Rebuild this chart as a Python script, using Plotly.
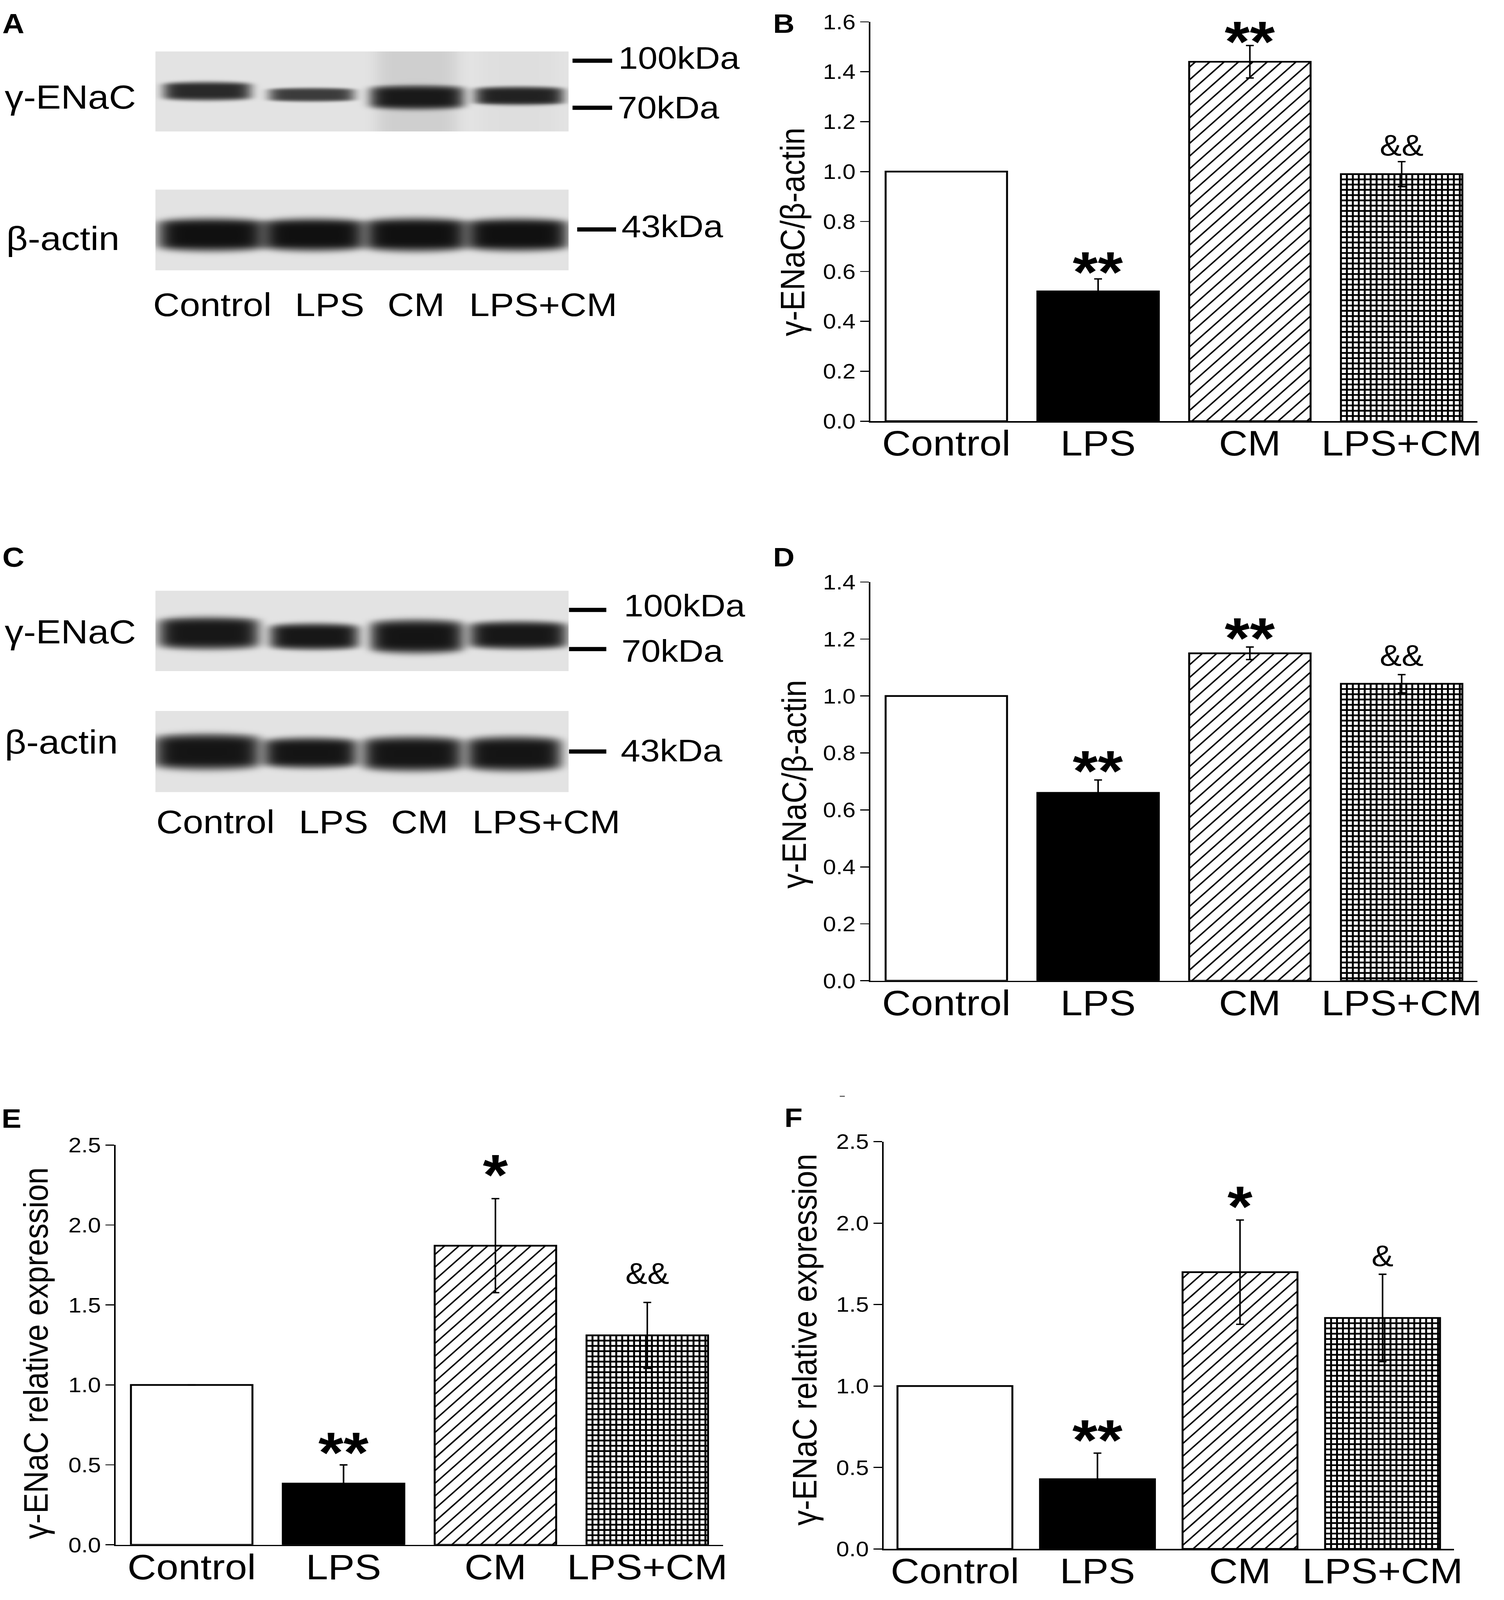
import numpy as np
import plotly.graph_objects as go

W, H = 3850, 4587
FONT = "Liberation Sans, Arial, Helvetica, sans-serif"

# ---------------- data ----------------
groups = ["Control", "LPS", "CM", "LPS+CM"]

# Panel B (western blot quantification, experiment 1)
b_mean = [1.00, 0.52, 1.44, 0.99]
b_err = [0.0, 0.05, 0.065, 0.05]
b_sig = ["", "**", "**", "&&"]
b_sig_y = [None, 0.628, 1.552, 1.105]
b_ticks = [0.0, 0.2, 0.4, 0.6, 0.8, 1.0, 1.2, 1.4, 1.6]

# Panel D (western blot quantification, experiment 2)
d_mean = [1.00, 0.66, 1.15, 1.043]
d_err = [0.0, 0.045, 0.022, 0.032]
d_sig = ["", "**", "**", "&&"]
d_sig_y = [None, 0.764, 1.231, 1.143]
d_ticks = [0.0, 0.2, 0.4, 0.6, 0.8, 1.0, 1.2, 1.4]

# Panel E (mRNA relative expression)
e_mean = [1.00, 0.383, 1.871, 1.31]
e_err = [0.0, 0.117, 0.294, 0.206]
e_sig = ["", "**", "*", "&&"]
e_sig_y = [None, 0.626, 2.363, 1.696]
e_ticks = [0.0, 0.5, 1.0, 1.5, 2.0, 2.5]

# Panel F (mRNA relative expression)
f_mean = [1.00, 0.428, 1.699, 1.418]
f_err = [0.0, 0.16, 0.32, 0.268]
f_sig = ["", "**", "*", "&"]
f_sig_y = [None, 0.717, 2.150, 1.798]
f_ticks = [0.0, 0.5, 1.0, 1.5, 2.0, 2.5]

# bar fills: plain, solid, diagonal hatch, fine grid
bar_fill = ["white", "black", "white", "white"]
bar_pattern = ["", "", "/", "+"]

# Blot bands: lane centre, half width (lanes), band centre / half height
# (fraction of strip height, top = 0), darkness (0..1)
a_enac_xc = [0.0, 1.01, 2.03, 3.02]
a_enac_hw = [0.41, 0.40, 0.44, 0.417]
a_enac_yc = [0.494, 0.539, 0.573, 0.554]
a_enac_hh = [0.11, 0.08, 0.14, 0.108]
a_enac_dk = [0.82, 0.74, 0.88, 0.85]
a_enac_smear = [0.0, 0.0, 0.09, 0.02]

a_actin_xc = [0.04, 1.03, 2.02, 3.0]
a_actin_hw = [0.50, 0.476, 0.477, 0.476]
a_actin_yc = [0.557, 0.557, 0.557, 0.557]
a_actin_hh = [0.192, 0.19, 0.195, 0.19]
a_actin_dk = [0.93, 0.93, 0.93, 0.93]

c_enac_xc = [0.015, 1.036, 2.03, 3.01]
c_enac_hw = [0.47, 0.415, 0.436, 0.457]
c_enac_yc = [0.526, 0.568, 0.568, 0.551]
c_enac_hh = [0.188, 0.154, 0.197, 0.162]
c_enac_dk = [0.90, 0.90, 0.91, 0.90]

c_actin_xc = [0.0, 1.0, 1.99, 2.97]
c_actin_hw = [0.498, 0.438, 0.47, 0.444]
c_actin_yc = [0.502, 0.515, 0.527, 0.527]
c_actin_hh = [0.207, 0.177, 0.200, 0.200]
c_actin_dk = [0.91, 0.91, 0.91, 0.91]

BLOT_BG = 0.89
LN2 = np.log(2.0)


def px_x(p):
    return p / W


def px_y(p):
    return 1 - p / H


def blot(xc, hw, yc, hh, dk, smear=None):
    xs = np.linspace(-0.5, 3.5, 400)
    ys = np.linspace(0, 1, 120)
    X, Y = np.meshgrid(xs, ys)
    z = np.full(X.shape, BLOT_BG)
    for i in range(len(xc)):
        dx = (X - xc[i]) / hw[i]
        hh_eff = hh[i] * np.clip(1 - 0.12 * dx ** 2, 0.5, 1)
        dy = (Y - yc[i]) / hh_eff
        p = np.exp(-LN2 * np.abs(dx) ** 8) * np.exp(-LN2 * np.abs(dy) ** 5)
        z = z * (1 - dk[i] * p)
        if smear is not None and smear[i] > 0:
            ps = np.exp(-LN2 * np.abs((X - xc[i]) / (0.85 * hw[i])) ** 6)
            z = z * (1 - smear[i] * ps)
    return xs, ys, z


fig = go.Figure()
layout = dict(
    width=W, height=H, margin=dict(l=0, r=0, t=0, b=0),
    paper_bgcolor="white", plot_bgcolor="white", showlegend=False,
    font=dict(family=FONT, color="black"), barmode="overlay",
)

# ---------------- blots ----------------
strips = [
    ("", 400, 1464, 116, 349, (a_enac_xc, a_enac_hw, a_enac_yc, a_enac_hh, a_enac_dk, a_enac_smear)),
    ("2", 400, 1464, 518, 753, (a_actin_xc, a_actin_hw, a_actin_yc, a_actin_hh, a_actin_dk, None)),
    ("3", 400, 1464, 1685, 1919, (c_enac_xc, c_enac_hw, c_enac_yc, c_enac_hh, c_enac_dk, None)),
    ("4", 400, 1464, 2035, 2271, (c_actin_xc, c_actin_hw, c_actin_yc, c_actin_hh, c_actin_dk, None)),
]
for aid, x0, x1, yt, yb, params in strips:
    xs, ys, z = blot(*params)
    fig.add_trace(go.Heatmap(
        x=xs, y=ys, z=z, zmin=0, zmax=1, showscale=False, zsmooth="best",
        colorscale=[[0, "#000000"], [1, "#ffffff"]], hoverinfo="skip",
        xaxis="x" + aid, yaxis="y" + aid))
    layout["xaxis" + aid] = dict(domain=[px_x(x0), px_x(x1)], range=[-0.5, 3.5],
                                 visible=False, anchor="y" + aid)
    layout["yaxis" + aid] = dict(domain=[px_y(yb), px_y(yt)], range=[1, 0],
                                 visible=False, anchor="x" + aid)


# ---------------- bar charts ----------------
def hatch_trace(xc, bw, top, pxx, pxy, aid, spacing=37.0, lw=4):
    """diagonal '/' hatch inside a bar, 45 degrees in screen space"""
    xl = xc - bw / 2
    Wb, Hb = bw * pxx, top * pxy
    xs, ys = [], []
    c = Wb - 10
    while c > -Hb:
        u0, u1 = max(0.0, c), min(Wb, Hb + c)
        if u1 > u0:
            xs += [xl + u0 / pxx, xl + u1 / pxx, None]
            ys += [(u0 - c) / pxy, (u1 - c) / pxy, None]
        c -= spacing
    return go.Scatter(x=xs, y=ys, mode="lines", line=dict(color="black", width=lw),
                      hoverinfo="skip", xaxis="x" + aid, yaxis="y" + aid)


def grid_trace(xc, bw, top, pxx, pxy, aid, spacing=15.3, lw=5):
    """fine square grid inside a bar"""
    xl, xr = xc - bw / 2, xc + bw / 2
    Wb, Hb = bw * pxx, top * pxy
    xs, ys = [], []
    u = spacing
    while u < Wb - 2:
        xs += [xl + u / pxx, xl + u / pxx, None]
        ys += [0, top, None]
        u += spacing
    v = Hb - spacing
    while v > 2:
        xs += [xl, xr, None]
        ys += [v / pxy, v / pxy, None]
        v -= spacing
    return go.Scatter(x=xs, y=ys, mode="lines", line=dict(color="black", width=lw),
                      hoverinfo="skip", xaxis="x" + aid, yaxis="y" + aid)


charts = [
    ("5", 2241, 3804, 30, 1192, 1.6, b_mean, b_err, b_sig, b_sig_y, b_ticks,
     "γ-ENaC/β-actin", (2040, 641), 0.8),
    ("6", 2241, 3804, 1660, 2820, 1.4, d_mean, d_err, d_sig, d_sig_y, d_ticks,
     "γ-ENaC/β-actin", (2044, 2248), 0.8),
    ("7", 298, 1862, 3298, 4461, 2.5, e_mean, e_err, e_sig, e_sig_y, e_ticks,
     "γ-ENaC relative expression", (93, 3903), 0.8),
    ("8", 2275, 3743, 3288, 4473, 2.5, f_mean, f_err, f_sig, f_sig_y, f_ticks,
     "γ-ENaC relative expression", (2071, 3864), 0.806),
]

annotations = []
shapes = []
xpos = list(range(len(groups)))

for (aid, x0, x1, ytop, yzero, ymax, mean, err, sig, sig_y, ticks,
     title, tpos, bw) in charts:
    pxx = (x1 - x0) / 4.0
    pxy = (yzero - ytop) / ymax
    fig.add_trace(go.Bar(
        x=xpos, y=mean, xaxis="x" + aid, yaxis="y" + aid, width=bw,
        marker=dict(color=bar_fill, line=dict(color="black", width=5)),
        error_y=dict(type="data", array=err, visible=True, color="black",
                     thickness=4, width=10),
        hoverinfo="skip",
    ))
    for i, pat in enumerate(bar_pattern):
        if pat == "/":
            fig.add_trace(hatch_trace(xpos[i], bw, mean[i], pxx, pxy, aid))
        elif pat == "+":
            fig.add_trace(grid_trace(xpos[i], bw, mean[i], pxx, pxy, aid))
    layout["xaxis" + aid] = dict(
        domain=[px_x(x0), px_x(x1)], anchor="y" + aid, range=[-0.5, 3.5],
        tickvals=xpos, ticktext=groups, showline=True, linecolor="black",
        linewidth=4, ticks="", showgrid=False, zeroline=False,
        ticklabelstandoff=-28,
        tickfont=dict(family=FONT, size=102, color="black"),
    )
    layout["yaxis" + aid] = dict(
        domain=[px_y(yzero), px_y(ytop)], anchor="x" + aid, range=[0, ymax],
        showline=True, linecolor="black", linewidth=4, ticks="outside",
        ticklen=22, tickwidth=3, tickcolor="black", tickvals=ticks,
        tickformat=".1f", showgrid=False, zeroline=False,
        tickfont=dict(family=FONT, size=60, color="black"),
    )
    annotations.append(dict(
        text=title, xref="paper", yref="paper", x=px_x(tpos[0]), y=px_y(tpos[1]),
        xanchor="center", yanchor="middle", textangle=-90, showarrow=False,
        font=dict(family=FONT, size=88, color="black")))
    for i, s, sy in zip(xpos, sig, sig_y):
        if not s:
            continue
        star = s.startswith("*")
        annotations.append(dict(
            text=s, xref="x" + aid, yref="y" + aid, x=i, y=sy,
            xanchor="center", yanchor="middle", showarrow=False,
            yshift=-22 if star else 0,
            font=dict(family=FONT, size=165 if star else 84, color="black",
                      weight="bold" if star else "normal")))


# ---------------- labels ----------------
def txt(t, x, y, size, xanchor="left", bold=False):
    annotations.append(dict(
        text=t, xref="paper", yref="paper", x=px_x(x), y=px_y(y),
        xanchor=xanchor, yanchor="middle", showarrow=False,
        font=dict(family=FONT, size=size, color="black",
                  weight="bold" if bold else "normal")))


# Panel letters
txt("A", 4, 36, 78, bold=True)
txt("C", 4, 1588, 78, bold=True)
txt("B", 1988, 35, 76, bold=True)
txt("D", 1988, 1588, 76, bold=True)
txt("E", 2, 3221, 76, bold=True)
txt("F", 2018, 3219, 76, bold=True)

# protein labels
txt("γ-ENaC", 10, 248, 96)
txt("β-actin", 14, 660, 96)
txt("γ-ENaC", 10, 1804, 96)
txt("β-actin", 10, 2125, 96)

# marker labels and dashes
markers = [
    ("100kDa", 1474, 1576, 143, 1590, 135),
    ("70kDa", 1474, 1576, 280, 1588, 279),
    ("43kDa", 1486, 1586, 634, 1598, 625),
    ("100kDa", 1465, 1561, 1741, 1604, 1728),
    ("70kDa", 1465, 1561, 1855, 1598, 1860),
    ("43kDa", 1465, 1561, 2153, 1596, 2150),
]
for t, dx0, dx1, dy, tx, ty in markers:
    shapes.append(dict(type="line", xref="paper", yref="paper",
                       x0=px_x(dx0), x1=px_x(dx1), y0=px_y(dy), y1=px_y(dy),
                       line=dict(color="black", width=12)))
    txt(t, tx, ty, 90)

# lane labels under blots
a_lane_x = [547, 849, 1071, 1398]
c_lane_x = [555, 859, 1080, 1407]
for g, xa, xc in zip(groups, a_lane_x, c_lane_x):
    txt(g, xa, 853, 94, xanchor="center")
    txt(g, xc, 2358, 94, xanchor="center")

# tiny stray dash above panel F
shapes.append(dict(type="line", xref="paper", yref="paper",
                   x0=px_x(2162), x1=px_x(2175), y0=px_y(3156), y1=px_y(3156),
                   line=dict(color="#555555", width=3)))

layout["annotations"] = annotations
layout["shapes"] = shapes
fig.update_layout(**layout)

# The captured area is limited in height; fit the whole figure into it so
# that nothing at the bottom is cut away.
MAX_CAPTURE = 4096
fit_js = """
(function(){
  var gd = document.getElementById('{plot_id}');
  document.documentElement.style.overflow = 'hidden';
  document.body.style.margin = '0';
  document.body.style.overflow = 'hidden';
  var vw = window.innerWidth || %d;
  var vh = Math.min(window.innerHeight || %d, %d);
  var sx = Math.min(1, vw / %d), sy = Math.min(1, vh / %d);
  gd.style.transformOrigin = '0 0';
  gd.style.transform = 'scale(' + sx + ',' + sy + ')';
})();
""" % (W, MAX_CAPTURE, MAX_CAPTURE, W, H)

fig.write_html("out.html", config={"displayModeBar": False}, post_script=fit_js)
